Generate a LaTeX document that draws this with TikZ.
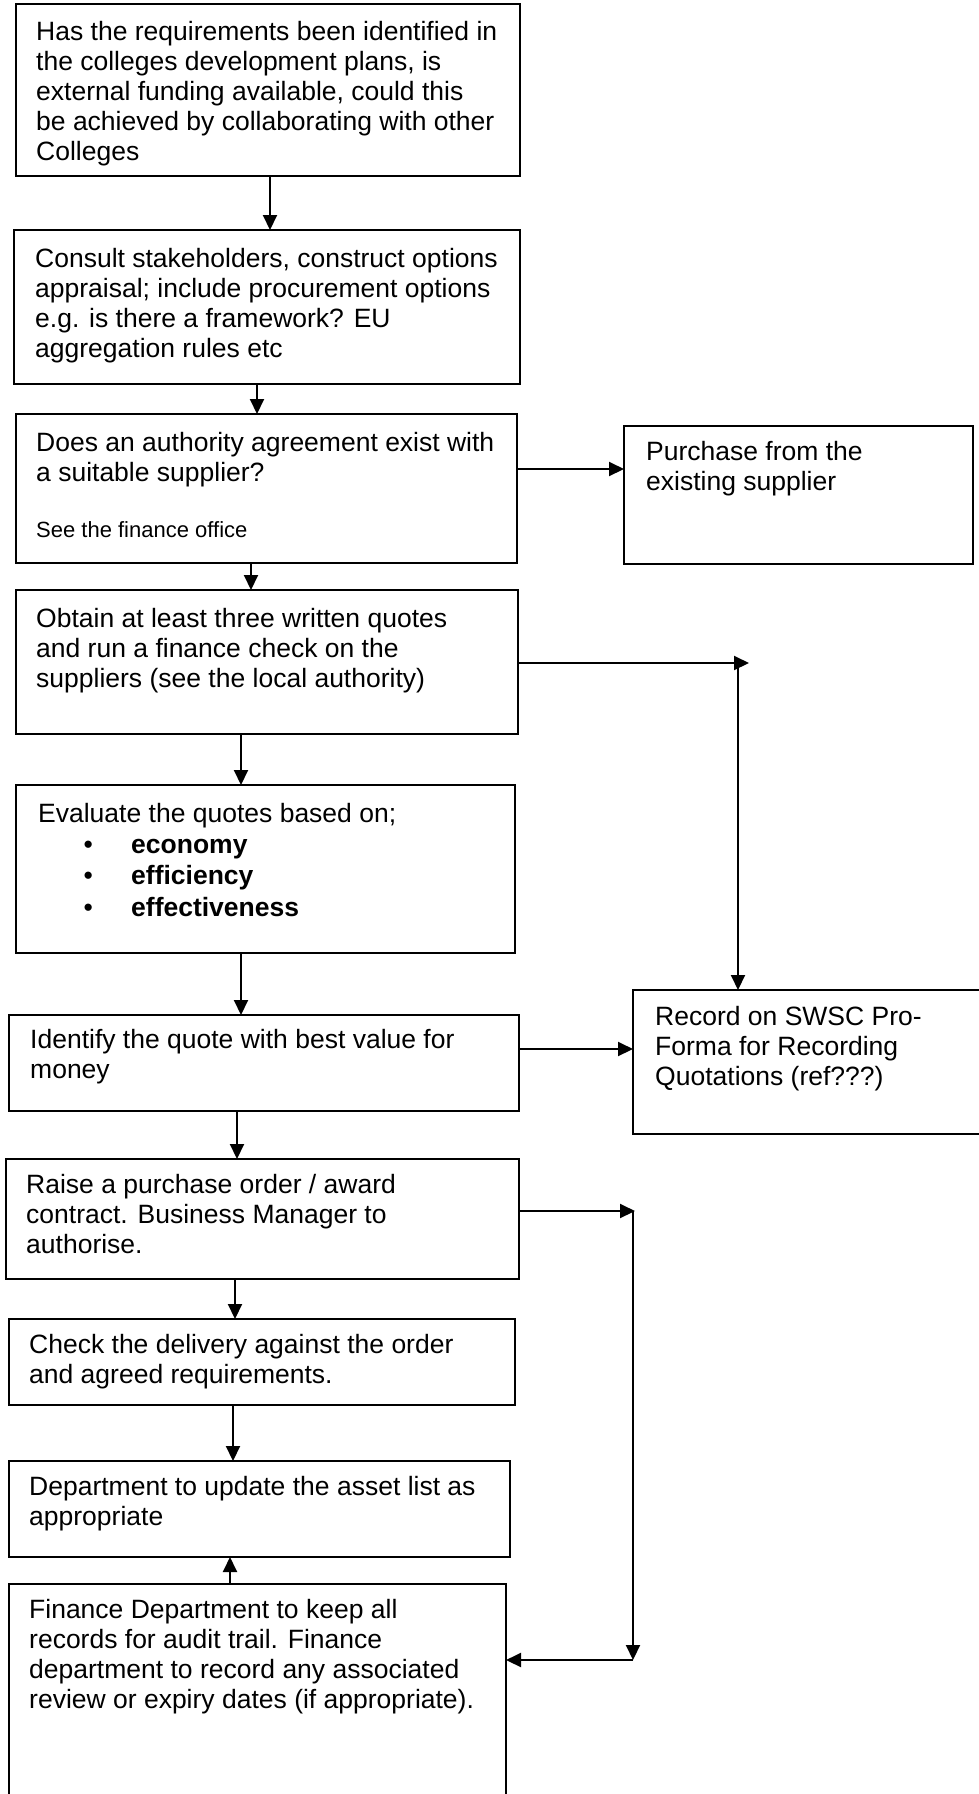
\documentclass[tikz,border=0pt]{standalone}
\usepackage{fontspec}
\setmainfont{Liberation Sans}
\usetikzlibrary{arrows.meta}
\newcommand{\mytxt}[1]{\begin{tabular}[t]{@{}l@{}}#1\end{tabular}}
\begin{document}
\begin{tikzpicture}[x=1pt,y=-1pt,
  box/.style={draw, line width=1.6pt, anchor=north west, inner sep=0pt, outer sep=0pt},
  txt/.style={anchor=base west, inner sep=0pt, font=\fontsize{26.5}{30}\selectfont},
  small/.style={anchor=base west, inner sep=0pt, font=\fontsize{22}{26}\selectfont},
  bul/.style={anchor=base west, inner sep=0pt, font=\fontsize{26.5}{31.7}\selectfont},
  arr/.style={line width=2pt, -{Triangle[length=15pt,width=14pt]}}]
\fill[white] (0,0) rectangle (978,1794);
\useasboundingbox (0,0) rectangle (978,1794);

% boxes
\node[box, minimum width=504pt, minimum height=172pt] (b1) at (16,4) {};
\node[box, minimum width=506pt, minimum height=154pt] (b2) at (14,230) {};
\node[box, minimum width=501pt, minimum height=149pt] (b3) at (16,414) {};
\node[box, minimum width=349pt, minimum height=138pt] (p) at (624,426) {};
\node[box, minimum width=502pt, minimum height=144pt] (b4) at (16,590) {};
\node[box, minimum width=499pt, minimum height=168pt] (b5) at (16,785) {};
\node[box, minimum width=510pt, minimum height=96pt] (b6) at (9,1015) {};
\node[box, minimum width=360pt, minimum height=144pt] (r) at (633,990) {};
\node[box, minimum width=513pt, minimum height=120pt] (b7) at (6,1159) {};
\node[box, minimum width=506pt, minimum height=86pt] (b8) at (9,1319) {};
\node[box, minimum width=501pt, minimum height=96pt] (b9) at (9,1461) {};
\node[box, minimum width=497pt, minimum height=230pt] (b10) at (9,1584) {};

% texts
\node[txt] (t1) at (36,40) {\mytxt{Has the requirements been identified in\\ the colleges development plans, is\\ external funding available, could this\\ be achieved by collaborating with other\\ Colleges}};
\node[txt] (t2) at (35,267) {\mytxt{Consult stakeholders, construct options\\ appraisal; include procurement options\\ e.g. is there a framework? EU\\ aggregation rules etc}};
\node[txt] (t3) at (36,451) {\mytxt{Does an authority agreement exist with\\ a suitable supplier?}};
\node[small] (t3s) at (36,537) {See the finance office};
\node[txt] (tp) at (646,460) {\mytxt{Purchase from the\\ existing supplier}};
\node[txt] (t4) at (36,627) {\mytxt{Obtain at least three written quotes\\ and run a finance check on the\\ suppliers (see the local authority)}};
\node[txt] (t5) at (38,822) {Evaluate the quotes based on;};
\node[bul] (t5b) at (83.5,853) {\mytxt{\makebox[47.5pt][l]{•}\textbf{economy}\\ \makebox[47.5pt][l]{•}\textbf{efficiency}\\ \makebox[47.5pt][l]{•}\textbf{effectiveness}}};
\node[txt] (t6) at (30,1048) {\mytxt{Identify the quote with best value for\\ money}};
\node[txt] (tr) at (655,1025) {\mytxt{Record on SWSC Pro-\\ Forma for Recording\\ Quotations (ref???)}};
\node[txt] (t7) at (26,1193) {\mytxt{Raise a purchase order / award\\ contract. Business Manager to\\ authorise.}};
\node[txt] (t8) at (29,1353) {\mytxt{Check the delivery against the order\\ and agreed requirements.}};
\node[txt] (t9) at (29,1495) {\mytxt{Department to update the asset list as\\ appropriate}};
\node[txt] (t10) at (29,1618) {\mytxt{Finance Department to keep all\\ records for audit trail. Finance\\ department to record any associated\\ review or expiry dates (if appropriate).}};

% connectors
\coordinate (c1) at (749,663);
\coordinate (c2) at (635,1211);
\coordinate (c3) at (633,1660);
\draw[arr] ([xshift=254pt]b1.south west) -- ([xshift=256pt]b2.north west);
\draw[arr] ([xshift=243pt]b2.south west) -- ([xshift=241pt]b3.north west);
\draw[arr] ([yshift=-55pt]b3.north east) -- ([yshift=-43pt]p.north west);
\draw[arr] ([xshift=235pt]b3.south west) -- ([xshift=235pt]b4.north west);
\draw[arr] ([yshift=-73pt]b4.north east) -- (c1);
\draw[arr] ([xshift=-11pt]c1) -- ([xshift=105pt]r.north west);
\draw[arr] ([xshift=225pt]b4.south west) -- ([xshift=225pt]b5.north west);
\draw[arr] ([xshift=225pt]b5.south west) -- ([xshift=232pt]b6.north west);
\draw[arr] ([yshift=-34pt]b6.north east) -- ([yshift=-59pt]r.north west);
\draw[arr] ([xshift=228pt]b6.south west) -- ([xshift=231pt]b7.north west);
\draw[arr] ([yshift=-52pt]b7.north east) -- (c2);
\draw[arr] ([xshift=-2pt]c2) -- (c3);
\draw[arr] (c3) -- ([yshift=-76pt]b10.north east);
\draw[arr] ([xshift=229pt]b7.south west) -- ([xshift=226pt]b8.north west);
\draw[arr] ([xshift=224pt]b8.south west) -- ([xshift=224pt]b9.north west);
\draw[arr] ([xshift=221pt]b10.north west) -- ([xshift=221pt]b9.south west);
\end{tikzpicture}
\end{document}
